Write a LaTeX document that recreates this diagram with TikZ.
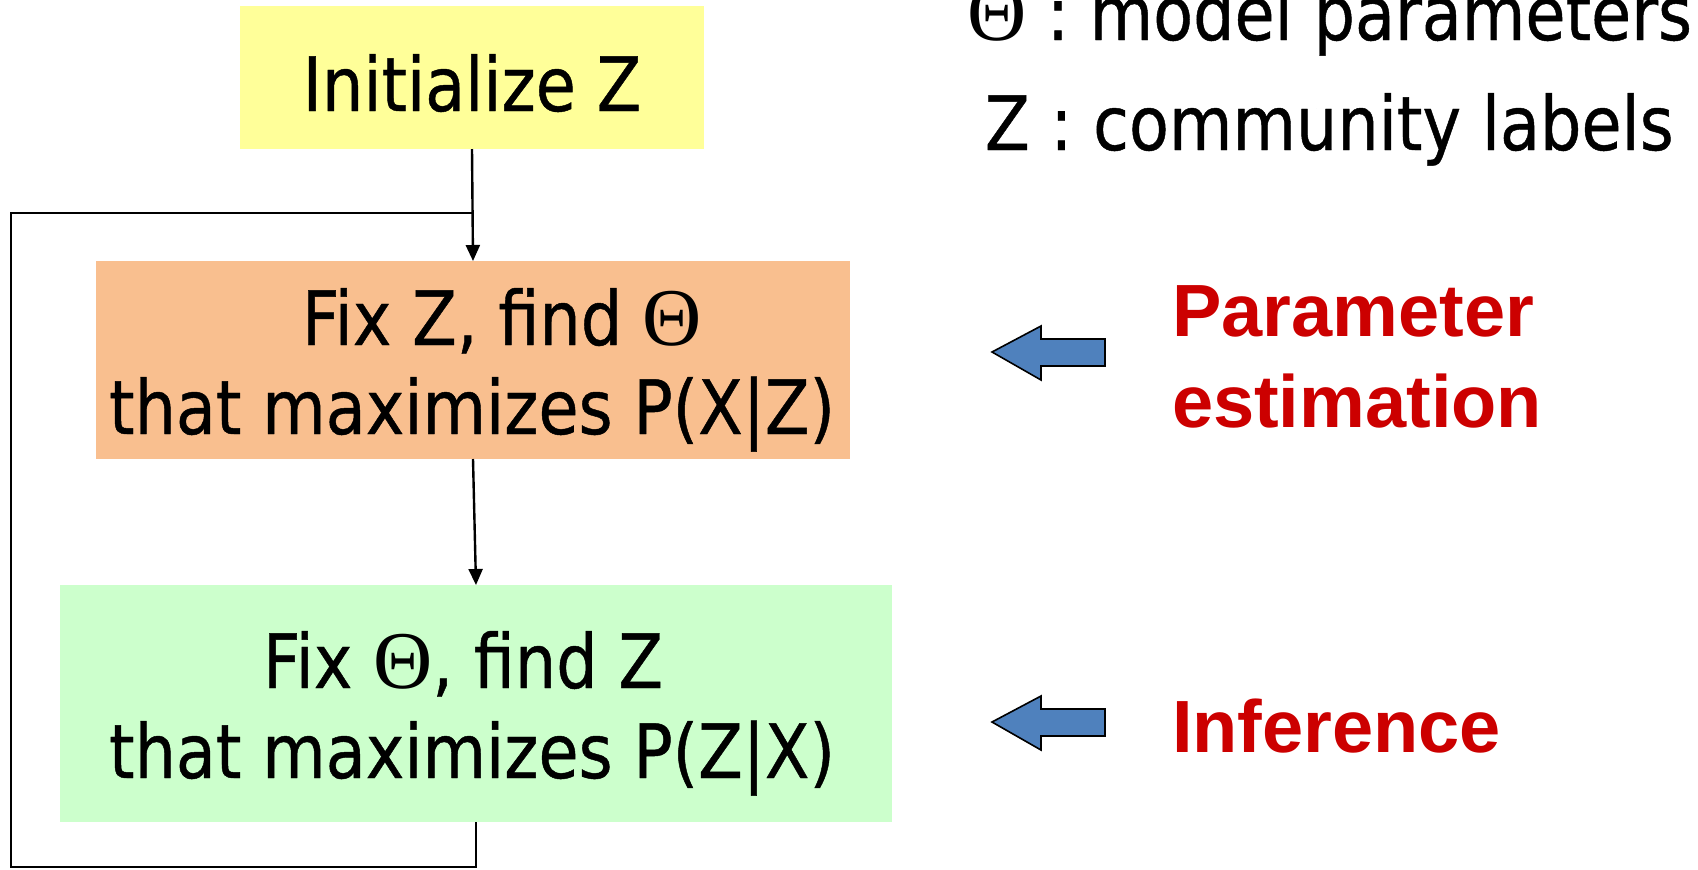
\documentclass[tikz,border=0pt]{standalone}
\usepackage{fontspec}
\setmainfont{DejaVu Sans}[FakeStretch=0.87,FakeBold=0.6]
\newfontfamily\labelfont{Liberation Sans}
\newfontfamily\greekfont{Liberation Serif}
\usetikzlibrary{arrows.meta}

\definecolor{initfill}{HTML}{FFFF99}
\definecolor{estfill}{HTML}{F9BF8F}
\definecolor{inffill}{HTML}{CCFFCC}
\definecolor{hintblue}{HTML}{4F81BD}
\definecolor{hintred}{HTML}{CC0000}

% Greek capital theta, set upright in a serif face
\newcommand{\thetaglyph}{{\greekfont\fontsize{41pt}{44pt}\selectfont Θ}}

\begin{document}
\begin{tikzpicture}[x=0.5pt,y=-0.5pt,
  every node/.style={inner sep=0pt, outer sep=0pt},
  block/.style={rectangle, draw=none},
  boxtext/.style={anchor=base, font=\fontsize{37.5pt}{44.5pt}\selectfont},
  flow/.style={draw=black, line width=1.2pt},
  flowarrow/.style={flow, -{Triangle[length=8pt,width=7pt]}},
  hintarrow/.style={fill=hintblue, draw=black, line width=0.8pt, line join=miter},
  side/.style={anchor=base west, text=hintred,
    font=\labelfont\bfseries\fontsize{37pt}{45pt}\selectfont},
  legend/.style={anchor=base west, font=\fontsize{37.5pt}{44.5pt}\selectfont}]

\useasboundingbox (0,0) rectangle (1698,869);
\clip (0,0) rectangle (1698,869);

% process blocks
\node[block, fill=initfill, minimum width=232pt, minimum height=71.5pt] (init) at (472,77.5) {};
\node[boxtext] (initT) at (472,111) {Initialize Z};

\node[block, fill=estfill, minimum width=377pt, minimum height=99pt] (est) at (473,360) {};
\node[boxtext] (estA) at (502,345) {Fix Z, find \thetaglyph};
\node[boxtext] (estB) at (472,434) {that maximizes P(X|Z)};

\node[block, fill=inffill, minimum width=416pt, minimum height=118.5pt] (inf) at (476,703.5) {};
\node[boxtext] (infA) at (463,688) {Fix \thetaglyph, find Z};
\node[boxtext] (infB) at (472,778) {that maximizes P(Z|X)};

% flow connectors and the feedback loop
\coordinate (join)  at (472,213);
\coordinate (loopA) at (476,867);
\coordinate (loopB) at (11,867);
\coordinate (loopC) at (11,213);
\draw[flowarrow] (init.south) -- (est.north);
\draw[flowarrow] (est.south) -- (inf.north);
\draw[flow] (inf.south) -- (loopA) -- (loopB) -- (loopC) -- (join);

% block arrows pointing at the steps
\draw[hintarrow] (992,352) -- (1041,326) -- (1041,339) -- (1105,339)
  -- (1105,366) -- (1041,366) -- (1041,380) -- cycle;
\draw[hintarrow] (992,722) -- (1041,696) -- (1041,709) -- (1105,709)
  -- (1105,736) -- (1041,736) -- (1041,750) -- cycle;

% step names
\node[side] (peA) at (1172,336) {Parameter};
\node[side] (peB) at (1172,427) {estimation};
\node[side] (infer) at (1172,752) {Inference};

% legend
\node[legend] (legTheta) at (967,40) {\thetaglyph{} : model parameters};
\node[legend] (legZ) at (985,150) {Z : community labels};
\end{tikzpicture}
\end{document}
